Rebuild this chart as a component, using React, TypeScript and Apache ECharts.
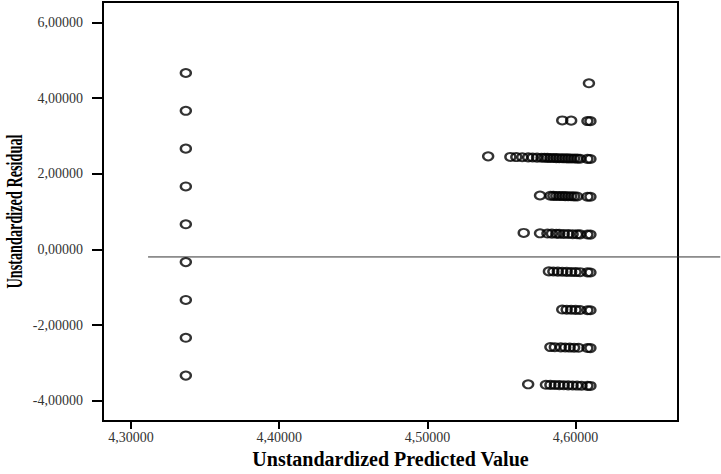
import React, { useEffect, useRef } from "react";
import * as echarts from "echarts";

// ---- data ----
const xTicks = [4.3, 4.4, 4.5, 4.6];
const yTicks = [-4, -2, 0, 2, 4, 6];
const xRange = [4.2811, 4.6691];
const yRange = [-4.54, 6.54];

// left column (predicted ≈ 4.337)
const leftColumn: [number, number][] = [
  [4.337, 4.663], [4.337, 3.663], [4.337, 2.663], [4.337, 1.663], [4.337, 0.663],
  [4.337, -0.337], [4.337, -1.337], [4.337, -2.337], [4.337, -3.337],
];

// right cluster rows
const row9: [number, number][] = [[4.609, 4.391]];
const row8: [number, number][] = [[4.591, 3.409], [4.597, 3.403], [4.608, 3.392], [4.610, 3.390]];
const row7: [number, number][] = [
  [4.541, 2.459], [4.556, 2.444], [4.560, 2.440], [4.564, 2.436], [4.568, 2.432],
  [4.571, 2.429], [4.574, 2.426], [4.577, 2.423], [4.579, 2.421], [4.581, 2.419],
  [4.583, 2.417], [4.585, 2.415], [4.587, 2.413], [4.589, 2.411], [4.591, 2.409],
  [4.593, 2.407], [4.595, 2.405], [4.597, 2.403], [4.599, 2.401], [4.601, 2.399],
  [4.603, 2.397], [4.608, 2.392], [4.610, 2.390],
];
const row6: [number, number][] = [
  [4.576, 1.424], [4.583, 1.417], [4.585, 1.415], [4.587, 1.413], [4.589, 1.411],
  [4.591, 1.409], [4.593, 1.407], [4.595, 1.405], [4.597, 1.403], [4.599, 1.401],
  [4.601, 1.399], [4.608, 1.392], [4.610, 1.390],
];
const row5: [number, number][] = [
  [4.565, 0.435], [4.576, 0.424], [4.581, 0.419], [4.584, 0.416], [4.587, 0.413],
  [4.589, 0.411], [4.592, 0.408], [4.595, 0.405], [4.598, 0.402], [4.601, 0.399],
  [4.603, 0.397], [4.608, 0.392], [4.610, 0.390],
];
const row4: [number, number][] = [
  [4.582, -0.582], [4.585, -0.585], [4.588, -0.588], [4.591, -0.591], [4.594, -0.594],
  [4.597, -0.597], [4.600, -0.600], [4.603, -0.603], [4.608, -0.608], [4.610, -0.610],
];
const row3: [number, number][] = [
  [4.591, -1.591], [4.594, -1.594], [4.597, -1.597], [4.600, -1.600], [4.603, -1.603],
  [4.608, -1.608], [4.610, -1.610],
];
const row2: [number, number][] = [
  [4.583, -2.583], [4.586, -2.586], [4.590, -2.590], [4.593, -2.593], [4.596, -2.596],
  [4.599, -2.599], [4.602, -2.602], [4.608, -2.608], [4.610, -2.610],
];
const row1: [number, number][] = [
  [4.568, -3.568], [4.580, -3.580], [4.583, -3.583], [4.586, -3.586], [4.589, -3.589],
  [4.592, -3.592], [4.595, -3.595], [4.598, -3.598], [4.601, -3.601], [4.604, -3.604],
  [4.608, -3.608], [4.610, -3.610],
];

const refLineY = -0.2;
const refLineX = [4.3115, 4.6976];

const xTitle = "Unstandardized Predicted Value";
const yTitle = "Unstandardized Residual";

const fmt = (v: number) => v.toFixed(5).replace(".", ",");

export default function App() {
  const ref = useRef<HTMLDivElement>(null);
  useEffect(() => {
    if (!ref.current) return;
    const chart = echarts.init(ref.current, null, { renderer: "svg" });
    const points = [
      ...leftColumn, ...row9, ...row8, ...row7, ...row6, ...row5, ...row4, ...row3, ...row2, ...row1,
    ];
    const font = "'Liberation Serif', 'Times New Roman', serif";
    chart.setOption({
      animation: false,
      backgroundColor: "#fff",
      grid: {
        left: 103, top: 2, right: 43, bottom: 44,
        show: true, borderColor: "#000", borderWidth: 2, backgroundColor: "transparent",
      },
      xAxis: {
        type: "value", min: xRange[0], max: xRange[1],
        name: xTitle, nameLocation: "middle", nameGap: 21,
        nameTextStyle: { fontFamily: font, fontWeight: "bold", fontSize: 20, color: "#000" },
        axisLine: { show: true, onZero: false, lineStyle: { color: "#000", width: 2 } },
        axisTick: { show: true, length: 8, customValues: xTicks, lineStyle: { color: "#000", width: 2 } },
        axisLabel: { customValues: xTicks, formatter: fmt, fontFamily: font, fontSize: 14, color: "#333", margin: 9 },
        splitLine: { show: false },
      },
      yAxis: {
        type: "value", min: yRange[0], max: yRange[1],
        axisLine: { show: true, onZero: false, lineStyle: { color: "#000", width: 2 } },
        axisTick: { show: true, length: 11, customValues: yTicks, lineStyle: { color: "#000", width: 2 } },
        axisLabel: { customValues: yTicks, formatter: fmt, fontFamily: font, fontSize: 14, color: "#333", margin: 20 },
        splitLine: { show: false },
      },
      series: [
        {
          type: "scatter",
          data: points,
          symbol: "circle",
          symbolSize: [10, 8],
          itemStyle: { color: "transparent", borderColor: "#000", borderWidth: 2.2 },
          clip: false,
        },
      ],
    });
    const p0 = chart.convertToPixel({ gridIndex: 0 }, [refLineX[0], refLineY]) as number[];
    const p1 = chart.convertToPixel({ gridIndex: 0 }, [refLineX[1], refLineY]) as number[];
    const top = chart.convertToPixel({ gridIndex: 0 }, [xRange[0], yRange[1]]) as number[];
    const bot = chart.convertToPixel({ gridIndex: 0 }, [xRange[0], yRange[0]]) as number[];
    chart.setOption({
      graphic: [
        {
          type: "line",
          shape: { x1: p0[0], y1: p0[1], x2: p1[0], y2: p1[1] },
          style: { stroke: "#333", lineWidth: 1 },
        },
        {
          type: "text",
          x: 14,
          y: (top[1] + bot[1]) / 2,
          rotation: Math.PI / 2,
          scaleX: 0.62,
          style: {
            text: yTitle,
            font: `bold 23px ${font}`,
            fill: "#000",
            align: "center",
            verticalAlign: "middle",
          },
        },
      ],
    });
    return () => chart.dispose();
  }, []);
  return (
    <div
      ref={ref}
      style={{ position: "fixed", left: 0, top: 0, width: 721, height: 474 }}
    />
  );
}
